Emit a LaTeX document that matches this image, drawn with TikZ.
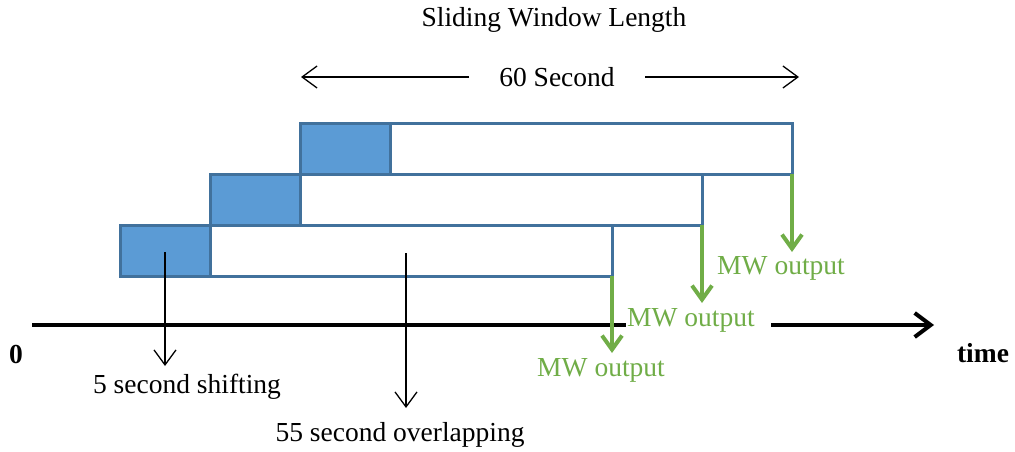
\documentclass[tikz,border=0pt]{standalone}
\usepackage{fontspec}
\setmainfont{Liberation Serif}
\usetikzlibrary{arrows.meta}
\definecolor{winblue}{HTML}{5B9BD5}
\definecolor{winedge}{HTML}{41719C}
\definecolor{mwgreen}{HTML}{70AD47}

\begin{document}
\begin{tikzpicture}[x=1pt,y=-1pt,
  txt/.style={font=\fontsize{27.5}{30}\selectfont, inner sep=1pt},
  shiftbox/.style={draw=winedge, fill=winblue, line width=3pt, outer sep=0pt,
    minimum width=90pt, minimum height=51pt, inner sep=0pt, anchor=north west},
  winbox/.style={draw=winedge, fill=white, line width=3pt, outer sep=0pt,
    minimum width=402pt, minimum height=51pt, inner sep=0pt, anchor=north west},
  mwarrow/.style={draw=mwgreen, line width=4pt,
    -{Straight Barb[length=14pt, width=20pt, line width=4pt]}},
  mwlabel/.style={txt, text=mwgreen, fill=white},
  thinarrow/.style={draw=black, line width=1.3pt,
    -{Straight Barb[length=15pt, width=22pt, line width=1.3pt]}},
  axisline/.style={draw=black, line width=4pt,
    -{Straight Barb[length=16pt, width=24pt, line width=4pt]}}]
\useasboundingbox (0,0) rectangle (1015,452);

% title and window length
\node[txt] (title) at (554,20) {Sliding Window Length};
\node[txt] (len) at (557,77) {60 Second};
\coordinate (lenL0) at (469,77);
\coordinate (lenL1) at (301,77);
\coordinate (lenR0) at (645,77);
\coordinate (lenR1) at (799,77);
\draw[thinarrow] (lenL0) -- (lenL1);
\draw[thinarrow] (lenR0) -- (lenR1);

% time axis
\coordinate (t0) at (32,325);
\coordinate (t1) at (934,325);
\draw[axisline] (t0) -- (t1);
\node[txt, font=\fontsize{27.5}{30}\selectfont\bfseries] (zero) at (16,354) {0};
\node[txt, font=\fontsize{27.5}{30}\selectfont\bfseries] (time) at (983,353) {time};

% sliding windows, each shifted by 5 s
\node[winbox] (w1) at (210,225) {};
\node[shiftbox] (s1) at (120,225) {};
\node[winbox] (w2) at (300,174) {};
\node[shiftbox] (s2) at (210,174) {};
\node[winbox] (w3) at (390,123) {};
\node[shiftbox] (s3) at (300,123) {};

% outputs at the end of each window
\node[mwlabel] (m1) at (601,370) {MW output};
\node[mwlabel, anchor=west] (m2) at (626,320) {MW output\kern15pt};
\node[mwlabel] (m3) at (781,268) {MW output};
\coordinate (o1) at (612,353);
\coordinate (o2) at (702,303);
\coordinate (o3) at (792,252);
\draw[mwarrow] (w1.south east) -- (o1);
\draw[mwarrow] (w2.south east) -- (o2);
\draw[mwarrow] (w3.south east) -- (o3);

% shift and overlap annotations
\node[txt] (shift) at (187,387) {5 second shifting};
\node[txt] (overlap) at (400,435) {55 second overlapping};
\coordinate (sh0) at (165,252);
\coordinate (sh1) at (165,366);
\coordinate (ov0) at (406,253);
\coordinate (ov1) at (406,408);
\draw[thinarrow] (sh0) -- (sh1);
\draw[thinarrow] (ov0) -- (ov1);
\end{tikzpicture}
\end{document}
